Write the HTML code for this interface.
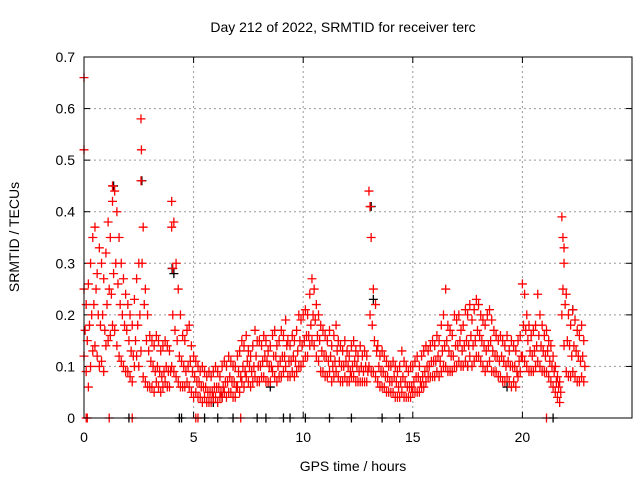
<!DOCTYPE html>
<html><head><meta charset="utf-8"><style>
body{margin:0;background:#fff;}
svg{display:block;font-family:"Liberation Sans",sans-serif;}
</style></head><body>
<svg id="chart" width="640" height="480">
<rect width="640" height="480" fill="#fff"/>
<text x="343" y="32" font-size="14" text-anchor="middle">Day 212 of 2022, SRMTID for receiver terc</text>
<text x="353" y="471" font-size="14" text-anchor="middle">GPS time / hours</text>
<text transform="translate(19,237) rotate(-90)" font-size="14" text-anchor="middle">SRMTID / TECUs</text>
<g id="grid"></g>
<g id="ticks"></g>
<g id="marks"></g>
<rect x="84" y="57" width="548" height="361" fill="none" stroke="#000"/>
</svg>
<script>
const xTicks=[0,5,10,15,20];
const yTicks=[0,0.1,0.2,0.3,0.4,0.5,0.6,0.7];
const yTickLabels=["0","0.1","0.2","0.3","0.4","0.5","0.6","0.7"];
const hours=[0,0.1,0.2,0.3,0.4,0.5,0.6,0.7,0.8,0.9,1,1.1,1.2,1.3,1.4,1.5,1.6,1.7,1.8,1.9,2,2.1,2.2,2.3,2.4,2.5,2.6,2.7,2.8,2.9,3,3.1,3.2,3.3,3.4,3.5,3.6,3.7,3.8,3.9,4,4.1,4.2,4.3,4.4,4.5,4.6,4.7,4.8,4.9,5,5.1,5.2,5.3,5.4,5.5,5.6,5.7,5.8,5.9,6,6.1,6.2,6.3,6.4,6.5,6.6,6.7,6.8,6.9,7,7.1,7.2,7.3,7.4,7.5,7.6,7.7,7.8,7.9,8,8.1,8.2,8.3,8.4,8.5,8.6,8.7,8.8,8.9,9,9.1,9.2,9.3,9.4,9.5,9.6,9.7,9.8,9.9,10,10.1,10.2,10.3,10.4,10.5,10.6,10.7,10.8,10.9,11,11.1,11.2,11.3,11.4,11.5,11.6,11.7,11.8,11.9,12,12.1,12.2,12.3,12.4,12.5,12.6,12.7,12.8,12.9,13,13.1,13.2,13.3,13.4,13.5,13.6,13.7,13.8,13.9,14,14.1,14.2,14.3,14.4,14.5,14.6,14.7,14.8,14.9,15,15.1,15.2,15.3,15.4,15.5,15.6,15.7,15.8,15.9,16,16.1,16.2,16.3,16.4,16.5,16.6,16.7,16.8,16.9,17,17.1,17.2,17.3,17.4,17.5,17.6,17.7,17.8,17.9,18,18.1,18.2,18.3,18.4,18.5,18.6,18.7,18.8,18.9,19,19.1,19.2,19.3,19.4,19.5,19.6,19.7,19.8,19.9,20,20.1,20.2,20.3,20.4,20.5,20.6,20.7,20.8,20.9,21,21.1,21.2,21.3,21.4,21.5,21.6,21.7,21.8,21.9,22,22.1,22.2,22.3,22.4,22.5,22.6,22.7,22.8];
const upper=[.25,.22,.26,.30,.35,.37,.28,.33,.30,.27,.32,.38,.35,.42,.44,.40,.35,.30,.27,.24,.22,.2,.18,.23,.27,.30,.58,.37,.25,.2,.16,.15,.14,.16,.15,.13,.14,.15,.14,.13,.42,.38,.3,.25,.2,.16,.15,.17,.18,.14,.12,.11,.1,.09,.1,.09,.08,.09,.08,.09,.1,.09,.08,.1,.11,.1,.12,.11,.1,.1,.12,.13,.15,.14,.16,.13,.12,.14,.17,.15,.15,.14,.16,.15,.13,.14,.16,.17,.14,.15,.17,.16,.19,.15,.14,.16,.15,.17,.2,.19,.2,.21,.2,.24,.27,.25,.22,.2,.18,.17,.16,.15,.17,.14,.16,.18,.15,.14,.13,.15,.13,.12,.14,.15,.13,.12,.14,.12,.13,.12,.44,.35,.25,.22,.14,.12,.13,.12,.11,.1,.1,.11,.1,.09,.1,.13,.11,.1,.09,.1,.1,.11,.12,.1,.12,.13,.14,.13,.14,.15,.14,.16,.15,.18,.2,.25,.18,.17,.16,.2,.19,.2,.17,.18,.21,.2,.22,.19,.21,.23,.22,.2,.19,.18,.2,.21,.19,.17,.16,.15,.16,.15,.14,.16,.13,.15,.14,.13,.15,.16,.26,.24,.2,.18,.16,.17,.18,.24,.2,.18,.16,.17,.15,.14,.12,.1,.08,.07,.39,.3,.24,.2,.18,.21,.19,.17,.16,.18,.15];
const middle=[.17,.15,.18,.2,.22,.25,.2,.18,.2,.17,.22,.25,.24,.28,.3,.26,.22,.2,.18,.17,.15,.13,.12,.15,.18,.2,.3,.22,.15,.13,.11,.1,.09,.1,.09,.08,.09,.1,.09,.09,.2,.17,.15,.12,.11,.1,.09,.1,.11,.09,.08,.07,.07,.06,.06,.06,.05,.05,.05,.06,.06,.06,.05,.06,.07,.07,.08,.07,.07,.06,.09,.08,.1,.09,.11,.1,.09,.1,.12,.1,.1,.11,.12,.11,.1,.1,.12,.12,.1,.11,.12,.12,.14,.11,.11,.12,.11,.13,.15,.14,.15,.16,.16,.18,.2,.19,.16,.15,.13,.12,.12,.11,.12,.1,.11,.13,.11,.1,.1,.11,.1,.09,.1,.11,.1,.09,.1,.09,.1,.09,.2,.18,.15,.13,.1,.09,.09,.08,.08,.07,.07,.08,.07,.06,.07,.08,.07,.06,.06,.06,.07,.08,.08,.07,.08,.09,.1,.1,.11,.11,.11,.12,.11,.13,.14,.15,.13,.12,.12,.14,.14,.15,.13,.14,.15,.14,.16,.14,.15,.17,.16,.15,.14,.13,.14,.15,.13,.12,.12,.11,.12,.11,.1,.11,.1,.1,.1,.09,.11,.12,.18,.17,.15,.13,.12,.13,.14,.16,.14,.13,.12,.13,.11,.1,.09,.07,.06,.05,.25,.22,.15,.14,.12,.14,.13,.12,.11,.12,.1];
const lower=[.12,.09,.06,.1,.13,.14,.12,.1,.11,.09,.14,.15,.16,.18,.17,.14,.12,.11,.1,.09,.09,.08,.07,.1,.12,.1,.13,.08,.07,.06,.06,.06,.05,.07,.06,.05,.06,.07,.06,.06,.1,.09,.08,.07,.06,.06,.06,.07,.06,.05,.04,.05,.04,.04,.03,.04,.03,.03,.03,.04,.04,.03,.04,.04,.05,.04,.05,.05,.04,.04,.06,.05,.07,.06,.08,.07,.06,.07,.08,.07,.07,.08,.08,.07,.07,.07,.09,.08,.07,.08,.08,.09,.1,.08,.08,.09,.08,.09,.1,.1,.11,.12,.12,.14,.15,.14,.12,.11,.09,.09,.08,.08,.09,.07,.08,.09,.08,.07,.07,.08,.07,.07,.08,.08,.07,.07,.07,.07,.07,.07,.1,.09,.09,.08,.07,.06,.06,.06,.05,.05,.05,.05,.04,.04,.04,.05,.04,.04,.04,.04,.05,.05,.05,.05,.06,.06,.07,.08,.08,.08,.08,.09,.08,.09,.1,.1,.09,.09,.09,.1,.1,.11,.1,.1,.11,.1,.12,.1,.11,.12,.12,.11,.1,.09,.1,.11,.09,.09,.09,.08,.08,.07,.07,.08,.07,.06,.07,.06,.08,.09,.12,.11,.1,.09,.09,.09,.1,.11,.1,.09,.09,.09,.08,.07,.06,.05,.04,.03,.2,.14,.09,.08,.08,.09,.08,.07,.07,.08,.07];
const spikeHours=[0,0,1.3,2.62,2.6,4.0,4.05,13.05,21.85,21.9];
const spikeValues=[0.66,0.52,0.45,0.52,0.46,0.37,0.29,0.41,0.35,0.33];
const zeroRedHours=[0.1,0.15,1.15,2.2,5.1,5.2,7.15,21.1];
const zeroBlackHours=[2.05,4.35,4.45,5.5,6.1,6.8,7.9,8.3,9.1,9.4,10.1,11.2,12.2,13.6,14.4,21.4];
const blackHours=[1.35,2.64,4.02,4.1,5.9,6.3,13.1,13.2,8.5,17.5,19.3,22.3];
const blackValues=[0.45,0.46,0.29,0.28,0.03,0.04,0.41,0.23,0.06,0.1,0.06,0.21];

const X0=84,X1=632,Y0=418,Y1=57;
const xs=h=>X0+h*(X1-X0)/25;
const ys=v=>Y0-v*(Y0-Y1)/0.7;
const NS="http://www.w3.org/2000/svg";
const grid=document.getElementById('grid'),ticks=document.getElementById('ticks'),marks=document.getElementById('marks');
function mk(tag,attrs,parent){const e=document.createElementNS(NS,tag);for(const k in attrs)e.setAttribute(k,attrs[k]);parent.appendChild(e);return e;}
xTicks.forEach(t=>{
  const x=xs(t);
  if(t>0){const g=mk('line',{x1:x,x2:x,y1:Y0,y2:Y1,stroke:'#999','stroke-dasharray':'2,3'},grid);
  
  }
  mk('line',{x1:x,x2:x,y1:Y0,y2:Y0-6,stroke:'#000'},ticks);
  mk('line',{x1:x,x2:x,y1:Y1,y2:Y1+6,stroke:'#000'},ticks);
  const l=mk('text',{x:x,y:Y0+24,'font-size':14,'text-anchor':'middle'},ticks);l.textContent=t;
  
  
});
yTicks.forEach((t,i)=>{
  const y=ys(t);
  if(t>0&&t<0.7){const g=mk('line',{x1:X0,x2:X1,y1:y,y2:y,stroke:'#999','stroke-dasharray':'2,3'},grid);
  
  }
  mk('line',{x1:X0,x2:X0+6,y1:y,y2:y,stroke:'#000'},ticks);
  mk('line',{x1:X1,x2:X1-6,y1:y,y2:y,stroke:'#000'},ticks);
  const l=mk('text',{x:X0-9,y:y+5,'font-size':14,'text-anchor':'end'},ticks);l.textContent=yTickLabels[i];
  
  
});
function plus(h,v,col){
  const x=xs(h),y=ys(v);
  const p=mk('path',{d:`M${x-4.5} ${y}h9M${x} ${y-4.5}v9`,stroke:col,'stroke-width':1.3},marks);
  
  
}
blackHours.forEach((h,i)=>plus(h,blackValues[i],'#000'));
zeroBlackHours.forEach(h=>plus(h,0,'#000'));
hours.forEach((h,i)=>{plus(h,upper[i],'#f00');plus(h+0.05,middle[i],'#f00');plus(h,lower[i],'#f00');});
spikeHours.forEach((h,i)=>plus(h,spikeValues[i],'#f00'));
zeroRedHours.forEach(h=>plus(h,0,'#f00'));
</script>
</body></html>
